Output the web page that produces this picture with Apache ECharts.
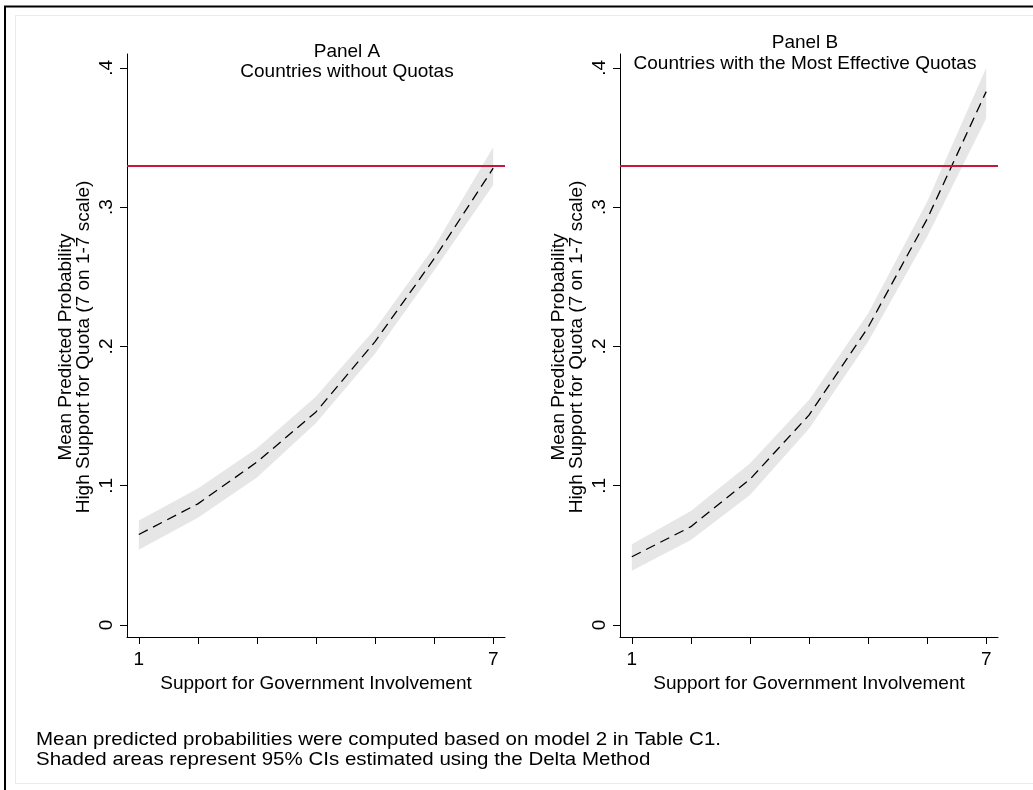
<!DOCTYPE html>
<html><head><meta charset="utf-8">
<script src="https://cdn.jsdelivr.net/npm/echarts@6/dist/echarts.min.js"></script>
<style>html,body{margin:0;padding:0;background:#fff}#c{width:1033px;height:790px}</style>
</head><body><div id="c"></div>
<script>
// ---- data ----
const xValues = [1, 2, 3, 4, 5, 6, 7];
const xTickValues = [1, 2, 3, 4, 5, 6, 7];
const xLabelValues = [1, 7];
const yTickValues = [0, 0.1, 0.2, 0.3, 0.4];
const yTickLabels = ['0', '.1', '.2', '.3', '.4'];

const meanA = [0.065, 0.087, 0.117, 0.153, 0.2035, 0.263, 0.328];
const loA   = [0.054, 0.077, 0.106, 0.145, 0.195, 0.2545, 0.316];
const hiA   = [0.075, 0.098, 0.127, 0.164, 0.2125, 0.2715, 0.343];

const meanB = [0.049, 0.0706, 0.1046, 0.1507, 0.2137, 0.2915, 0.383];
const loB   = [0.039, 0.061, 0.0933, 0.141, 0.2034, 0.2788, 0.3637];
const hiB   = [0.058, 0.0818, 0.116, 0.1615, 0.2237, 0.304, 0.400];

const refValue = 0.328;

const titleA = ['Panel A', 'Countries without Quotas'];
const titleB = ['Panel B', 'Countries with the Most Effective Quotas'];
const xAxisTitle = 'Support for Government Involvement';
const yAxisTitle = ['Mean Predicted Probability', 'High Support for Quota (7 on 1-7 scale)'];
const notes = ['Mean predicted probabilities were computed based on model 2 in Table C1.',
               'Shaded areas represent 95% CIs estimated using the Delta Method'];

// ---- chart ----
const FONT = '"Liberation Sans", Arial, Helvetica, sans-serif';
const chart = echarts.init(document.getElementById('c'), null, {renderer: 'canvas'});

const gridA = {left: 127, top: 54, width: 378, height: 583};
const gridB = {left: 620, top: 54, width: 378, height: 583};

function xAxisDef(gi) {
  return {
    type: 'value', gridIndex: gi, min: 0.8, max: 7.2,
    axisLine: {show: true, onZero: false, lineStyle: {color: '#000', width: 1}},
    axisTick: {show: true, length: 7, customValues: xTickValues, lineStyle: {color: '#000'}},
    axisLabel: {show: true, customValues: xLabelValues, margin: 13, color: '#000', fontSize: 19, fontFamily: FONT},
    splitLine: {show: false},
    name: xAxisTitle, nameLocation: 'middle', nameGap: 34,
    nameTextStyle: {color: '#000', fontSize: 19, fontFamily: FONT}
  };
}
function yAxisDef(gi) {
  return {
    type: 'value', gridIndex: gi, min: -0.0086, max: 0.41,
    axisLine: {show: true, onZero: false, lineStyle: {color: '#000', width: 1}},
    axisTick: {show: true, length: 7, customValues: yTickValues, lineStyle: {color: '#000'}},
    axisLabel: {
      show: true, customValues: yTickValues, rotate: 90, margin: 11, color: '#000', fontSize: 19, fontFamily: FONT,
      formatter: v => {
        const i = yTickValues.findIndex(t => Math.abs(t - v) < 1e-9);
        return i >= 0 ? yTickLabels[i] : '';
      }
    },
    splitLine: {show: false}
  };
}

function bandSeries(gi, lo, hi) {
  return {
    type: 'custom', xAxisIndex: gi, yAxisIndex: gi, silent: true, z: 1,
    data: xValues.map((x, i) => [x, lo[i], hi[i]]),
    encode: {x: 0, y: [1, 2]},
    renderItem: (params, api) => {
      if (params.dataIndex !== 0) return null;
      const pts = [];
      for (let i = 0; i < xValues.length; i++) pts.push(api.coord([xValues[i], hi[i]]));
      for (let i = xValues.length - 1; i >= 0; i--) pts.push(api.coord([xValues[i], lo[i]]));
      return {type: 'polygon', shape: {points: pts}, style: {fill: '#e6e6e6', stroke: null}};
    }
  };
}
function refSeries(gi) {
  return {
    type: 'line', xAxisIndex: gi, yAxisIndex: gi, data: [], z: 2, silent: true,
    markLine: {
      silent: true, symbol: 'none', animation: false, label: {show: false},
      lineStyle: {color: '#c8163c', width: 2, type: 'solid'},
      data: [{yAxis: refValue}]
    }
  };
}
function meanSeries(gi, mean) {
  return {
    type: 'line', xAxisIndex: gi, yAxisIndex: gi, z: 3, silent: true,
    data: xValues.map((x, i) => [x, mean[i]]),
    symbol: 'none', smooth: false,
    lineStyle: {color: '#000', width: 1.3, type: [10, 6]}
  };
}

// footnote sized to the reference line width
const cv = document.createElement('canvas').getContext('2d');
cv.font = '19px ' + FONT;
const noteScale = 685 / cv.measureText(notes[0]).width;

function textEl(x, y, text, opts) {
  return {
    type: 'text', x: x, y: y, silent: true,
    style: Object.assign({text: text, fill: '#000', font: '19px ' + FONT, align: 'center', verticalAlign: 'middle'}, opts || {})
  };
}

const graphics = [
  // outer frame (black, top and left) and inner light outline
  {type: 'line', silent: true, shape: {x1: 4, y1: 6.5, x2: 1033, y2: 6.5}, style: {stroke: '#000', lineWidth: 2}},
  {type: 'line', silent: true, shape: {x1: 5, y1: 6, x2: 5, y2: 790}, style: {stroke: '#000', lineWidth: 2}},
  {type: 'line', silent: true, shape: {x1: 15, y1: 15.5, x2: 1033, y2: 15.5}, style: {stroke: '#e4eeee', lineWidth: 1}},
  {type: 'line', silent: true, shape: {x1: 15.5, y1: 15, x2: 15.5, y2: 783}, style: {stroke: '#e4eeee', lineWidth: 1}},
  {type: 'line', silent: true, shape: {x1: 15, y1: 783.5, x2: 1033, y2: 783.5}, style: {stroke: '#e4eeee', lineWidth: 1}},
  // panel titles
  textEl(347, 52, titleA[0]), textEl(347, 72, titleA[1]),
  textEl(805, 43, titleB[0]), textEl(805, 64, titleB[1]),
  // y axis titles (rotated)
  Object.assign(textEl(66, 347, yAxisTitle[0]), {rotation: Math.PI / 2}),
  Object.assign(textEl(84, 347, yAxisTitle[1]), {rotation: Math.PI / 2}),
  Object.assign(textEl(559, 347, yAxisTitle[0]), {rotation: Math.PI / 2}),
  Object.assign(textEl(577, 347, yAxisTitle[1]), {rotation: Math.PI / 2}),
  // notes
  {type: 'text', x: 36, y: 740, scaleX: noteScale, silent: true,
   style: {text: notes[0], fill: '#000', font: '19px ' + FONT, align: 'left', verticalAlign: 'middle'}},
  {type: 'text', x: 36, y: 760, scaleX: noteScale, silent: true,
   style: {text: notes[1], fill: '#000', font: '19px ' + FONT, align: 'left', verticalAlign: 'middle'}}
];

chart.setOption({
  backgroundColor: '#fff',
  animation: false,
  grid: [gridA, gridB],
  xAxis: [xAxisDef(0), xAxisDef(1)],
  yAxis: [yAxisDef(0), yAxisDef(1)],
  series: [
    bandSeries(0, loA, hiA), refSeries(0), meanSeries(0, meanA),
    bandSeries(1, loB, hiB), refSeries(1), meanSeries(1, meanB)
  ],
  graphic: graphics
});
</script>
</body></html>
